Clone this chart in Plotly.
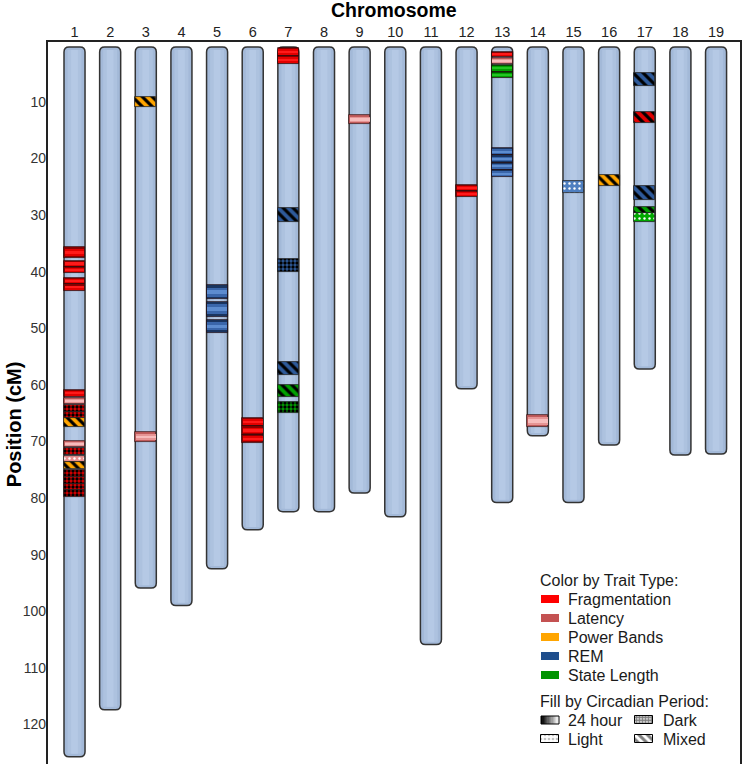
import numpy as np
import plotly.graph_objects as go

# ---------------- data ----------------
chrom_ids = list(range(1, 20))
chrom_labels = [str(c) for c in chrom_ids]
chrom_start = 0.3
chrom_end = [125.7, 117.4, 95.9, 99.0, 92.5, 85.6, 82.4, 82.4, 79.1, 83.3,
             105.9, 60.7, 80.8, 69.0, 80.8, 70.6, 57.2, 72.4, 72.2]

band_chrom = [1, 1, 1, 1, 1,
              1, 1, 1, 1, 1,
              1, 1, 1, 1, 1, 1, 1, 1,
              3, 3,
              5, 5, 5,
              6, 6, 6,
              7, 7, 7, 7, 7, 7, 7,
              9,
              12, 12,
              13, 13, 13, 13, 13, 13, 13, 13,
              14,
              15,
              16,
              17, 17, 17, 17, 17]
band_start = [35.57, 38.04, 39.15, 41.15, 42.24,
              60.88, 62.30, 63.53, 64.77, 65.83,
              69.89, 71.13, 72.54, 73.60, 75.02, 76.25, 77.49, 78.55,
              9.12, 68.30,
              42.33, 45.28, 48.52,
              65.83, 67.30, 68.78,
              0.46, 1.87, 28.73, 37.74, 55.94, 59.98, 63.00,
              12.30,
              24.66, 25.72,
              1.17, 2.23, 3.46, 4.70, 18.13, 19.42, 20.72, 22.01,
              65.30,
              23.96,
              22.90,
              4.88, 11.77, 24.84, 28.53, 29.61]
band_end = [37.61, 39.15, 40.27, 42.24, 43.34,
            62.12, 63.36, 64.77, 65.83, 67.42,
            70.95, 72.37, 73.60, 74.84, 76.25, 77.49, 78.55, 79.79,
            10.88, 70.10,
            44.86, 47.93, 50.76,
            67.30, 68.78, 70.25,
            1.87, 3.29, 31.20, 40.04, 58.23, 62.12, 64.95,
            13.89,
            25.72, 26.78,
            2.05, 3.29, 4.70, 5.76, 19.42, 20.72, 22.01, 23.30,
            67.42,
            26.08,
            24.84,
            7.17, 13.71, 27.31, 29.61, 31.20]
band_trait = ["Fragmentation"] * 5 + \
             ["Fragmentation", "Latency", "Fragmentation", "Fragmentation", "Power Bands"] + \
             ["Latency", "Fragmentation", "Latency", "Power Bands",
              "Fragmentation", "Fragmentation", "Fragmentation", "Fragmentation"] + \
             ["Power Bands", "Latency"] + \
             ["REM"] * 3 + \
             ["Fragmentation"] * 3 + \
             ["Fragmentation", "Fragmentation", "REM", "REM", "REM", "State Length", "State Length"] + \
             ["Latency"] + \
             ["Fragmentation"] * 2 + \
             ["Fragmentation", "Latency", "State Length", "State Length", "REM", "REM", "REM", "REM"] + \
             ["Latency"] + \
             ["REM"] + \
             ["Power Bands"] + \
             ["REM", "Fragmentation", "REM", "State Length", "State Length"]
band_period = ["24 hour"] * 5 + \
              ["24 hour", "24 hour", "Dark", "Dark", "Mixed"] + \
              ["24 hour", "Dark", "Light", "Mixed", "Dark", "Dark", "Dark", "Dark"] + \
              ["Mixed", "24 hour"] + \
              ["24 hour"] * 3 + \
              ["24 hour"] * 3 + \
              ["24 hour", "24 hour", "Mixed", "Dark", "Mixed", "Mixed", "Dark"] + \
              ["24 hour"] + \
              ["24 hour"] * 2 + \
              ["24 hour"] * 8 + \
              ["24 hour"] + \
              ["Light"] + \
              ["Mixed"] + \
              ["Mixed", "Mixed", "Mixed", "Mixed", "Light"]

y_ticks = [10, 20, 30, 40, 50, 60, 70, 80, 90, 100, 110, 120]
trait_names = ["Fragmentation", "Latency", "Power Bands", "REM", "State Length"]
period_names = ["24 hour", "Dark", "Light", "Mixed"]

# ---------------- styles ----------------
FONT = "Liberation Sans, Arial, Helvetica, sans-serif"
legend_color = {"Fragmentation": "#ff0000", "Latency": "#c45252",
                "Power Bands": "#ffa500", "REM": "#1f4e8c", "State Length": "#009400"}
base_color = {"Fragmentation": "#e00000", "Latency": "#e89090",
              "Power Bands": "#ffa500", "REM": "#2e5a9a", "State Length": "#00a000"}
light_bg = {"Fragmentation": "#e00000", "Latency": "#e89090",
            "Power Bands": "#ffa500", "REM": "#4f7fc0", "State Length": "#00a800"}
grad = {  # edge, mid, center for the 24-hour gradient look
    "Fragmentation": ("#8a0000", "#e20000", "#ff1a1a"),
    "Latency": ("#c05a5a", "#e69494", "#f7bcbc"),
    "Power Bands": ("#b06a00", "#f09a00", "#ffb830"),
    "REM": ("#1a3560", "#3a66aa", "#5d8ccf"),
    "State Length": ("#005500", "#00a000", "#22c422"),
}
W = 0.59
CHR_EDGE_FILL = "#a3b9d8"
CHR_MID_FILL = "#adc2df"
CHR_CEN_FILL = "#b5c9e5"

fig = go.Figure()

# chromosome bodies (rounded rectangles in data space) with a soft cylinder shading
rx = 5 / 35.64
ry = 5 / 5.66
shapes = []
for c, e in zip(chrom_ids, chrom_end):
    x0, x1 = c - W / 2, c + W / 2
    y0, y1 = chrom_start, e
    p = (f"M {x0+rx},{y0} L {x1-rx},{y0} Q {x1},{y0} {x1},{y0+ry} "
         f"L {x1},{y1-ry} Q {x1},{y1} {x1-rx},{y1} L {x0+rx},{y1} "
         f"Q {x0},{y1} {x0},{y1-ry} L {x0},{y0+ry} Q {x0},{y0} {x0+rx},{y0} Z")
    shapes.append(dict(type="path", path=p, xref="x", yref="y", layer="below",
                       fillcolor=CHR_EDGE_FILL, line=dict(color="#333333", width=1.5)))
    shapes.append(dict(type="rect", xref="x", yref="y", layer="below",
                       x0=c - W * 0.33, x1=c + W * 0.33, y0=y0 + 0.5, y1=y1 - 0.5,
                       fillcolor=CHR_MID_FILL, line_width=0))
    shapes.append(dict(type="rect", xref="x", yref="y", layer="below",
                       x0=c - W * 0.16, x1=c + W * 0.16, y0=y0 + 0.5, y1=y1 - 0.5,
                       fillcolor=CHR_CEN_FILL, line_width=0))

# 24-hour bands: layered bars to imitate the gradient
for t in trait_names:
    idx = [i for i in range(len(band_chrom)) if band_trait[i] == t and band_period[i] == "24 hour"]
    if not idx:
        continue
    xs = [band_chrom[i] for i in idx]
    s = [band_start[i] for i in idx]
    l = [band_end[i] - band_start[i] for i in idx]
    edge, mid, cen = grad[t]
    fig.add_trace(go.Bar(x=xs, base=s, y=l, width=[W] * len(xs), marker_color=edge,
                         marker_line=dict(color="rgba(30,0,0,0.75)", width=0.8),
                         showlegend=False, hoverinfo="skip"))
    fig.add_trace(go.Bar(x=xs, base=[a + 0.18 * b for a, b in zip(s, l)], y=[0.64 * b for b in l],
                         width=[W - 0.03] * len(xs), marker_color=mid, marker_line_width=0,
                         showlegend=False, hoverinfo="skip"))
    fig.add_trace(go.Bar(x=xs, base=[a + 0.36 * b for a, b in zip(s, l)], y=[0.28 * b for b in l],
                         width=[W - 0.03] * len(xs), marker_color=cen, marker_line_width=0,
                         showlegend=False, hoverinfo="skip"))

pattern_style = {
    "Dark": dict(shape=".", fgcolor="#000000", size=4, solidity=0.55),
    "Light": dict(shape=".", fgcolor="#ffffff", size=5, solidity=0.18),
    "Mixed": dict(shape="\\", fgcolor="#000000", size=7, solidity=0.45),
}
for per in ["Dark", "Light", "Mixed"]:
    for t in trait_names:
        idx = [i for i in range(len(band_chrom)) if band_trait[i] == t and band_period[i] == per]
        if not idx:
            continue
        col = light_bg[t] if per == "Light" else base_color[t]
        fig.add_trace(go.Bar(
            x=[band_chrom[i] for i in idx],
            base=[band_start[i] for i in idx],
            y=[band_end[i] - band_start[i] for i in idx],
            width=[W] * len(idx),
            marker=dict(color=col, line=dict(color="#222222", width=0.8),
                        pattern=dict(bgcolor=col, fillmode="replace", **pattern_style[per])),
            showlegend=False, hoverinfo="skip"))

# ---------------- custom legend (pixel-like overlay axes) ----------------
leg_traits_y = [599, 618, 637, 656, 675]
for t, yy in zip(trait_names, leg_traits_y):
    fig.add_trace(go.Bar(x=[550], base=[yy - 4], y=[8], width=[18], marker_color=legend_color[t],
                         marker_line_width=0, xaxis="x2", yaxis="y2",
                         showlegend=False, hoverinfo="skip"))

# 24 hour gradient swatch
gx = np.linspace(541, 559, 15)
fig.add_trace(go.Heatmap(x=gx, y=[716, 724], z=[np.linspace(0, 1, 14)],
                         colorscale=[[0, "#000000"], [1, "#ffffff"]], showscale=False,
                         xaxis="x2", yaxis="y2", hoverinfo="skip"))
leg_pat = {"Dark": (644, 720, dict(shape=".", fgcolor="#000000", bgcolor="#ffffff", size=3, solidity=0.75)),
           "Light": (550, 739, dict(shape=".", fgcolor="#888888", bgcolor="#ffffff", size=4, solidity=0.35)),
           "Mixed": (644, 739, dict(shape="\\", fgcolor="#000000", bgcolor="#ffffff", size=6, solidity=0.5))}
for per, (cx, cy, pat) in leg_pat.items():
    fig.add_trace(go.Bar(x=[cx], base=[cy - 4], y=[8], width=[18],
                         marker=dict(color="#ffffff", line=dict(color="#000000", width=1), pattern=pat),
                         xaxis="x2", yaxis="y2", showlegend=False, hoverinfo="skip"))
shapes.append(dict(type="rect", xref="x2", yref="y2", x0=541, x1=559, y0=716, y1=724,
                   line=dict(color="#000000", width=1)))

# frame
shapes.append(dict(type="rect", xref="paper", yref="paper", x0=0, x1=1, y0=-0.05, y1=1,
                   line=dict(color="#222222", width=2)))

ann = []
ann.append(dict(text="<b>Chromosome</b>", xref="paper", yref="paper", x=0.5, y=1, yshift=31,
                xanchor="center", yanchor="middle", showarrow=False,
                font=dict(family=FONT, size=19.5, color="#000000")))
ann.append(dict(text="<b>Position (cM)</b>", xref="paper", yref="paper", x=0, y=0.47, xshift=-33,
                xanchor="center", yanchor="middle", textangle=-90, showarrow=False,
                font=dict(family=FONT, size=20, color="#000000")))
LF = dict(family=FONT, size=16, color="#1a1a1a")
ann.append(dict(text="Color by Trait Type:", xref="x2", yref="y2", x=538, y=580,
                xanchor="left", yanchor="middle", showarrow=False, font=LF))
for t, yy in zip(trait_names, leg_traits_y):
    ann.append(dict(text=t, xref="x2", yref="y2", x=566, y=yy, xanchor="left", yanchor="middle",
                    showarrow=False, font=LF))
ann.append(dict(text="Fill by Circadian Period:", xref="x2", yref="y2", x=538, y=701,
                xanchor="left", yanchor="middle", showarrow=False, font=LF))
for txt, xx, yy in [("24 hour", 566, 720), ("Dark", 661, 720), ("Light", 566, 739), ("Mixed", 661, 739)]:
    ann.append(dict(text=txt, xref="x2", yref="y2", x=xx, y=yy, xanchor="left", yanchor="middle",
                    showarrow=False, font=LF))

fig.update_layout(
    width=744, height=764,
    margin=dict(l=47, r=3, t=41, b=0),
    paper_bgcolor="white", plot_bgcolor="white",
    barmode="overlay", bargap=0,
    shapes=shapes, annotations=ann,
    font=dict(family=FONT),
    xaxis=dict(range=[0.228, 19.70], side="top", tickmode="array", tickvals=chrom_ids,
               ticktext=chrom_labels, showgrid=False, zeroline=False, showline=False, ticks="",
               tickfont=dict(family=FONT, size=14.5, color="#222222"), fixedrange=True),
    yaxis=dict(range=[127.0, -0.78], tickmode="array", tickvals=y_ticks, showgrid=False,
               zeroline=False, showline=False, ticks="",
               tickfont=dict(family=FONT, size=14, color="#333333"), fixedrange=True),
    xaxis2=dict(range=[47, 741], overlaying="x", anchor="y2", visible=False, fixedrange=True),
    yaxis2=dict(range=[764, 41], overlaying="y", anchor="x2", visible=False, fixedrange=True),
)

fig.write_html("out.html")
